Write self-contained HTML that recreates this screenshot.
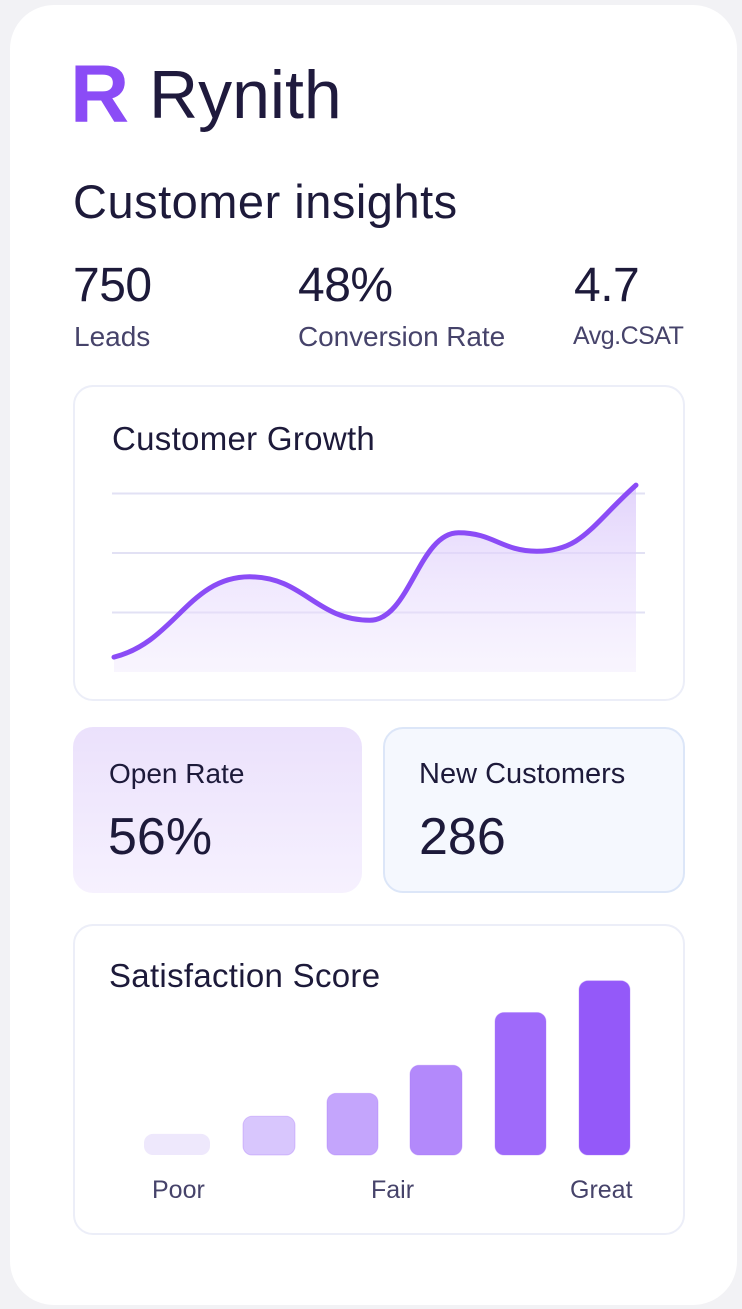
<!DOCTYPE html>
<html><head><meta charset="utf-8"><style>
*{margin:0;padding:0;box-sizing:border-box}
body{width:742px;height:1309px;background:#f2f2f5;font-family:"Liberation Sans",sans-serif;position:relative;overflow:hidden;color:#1d1a3a}
.abs{position:absolute;white-space:nowrap}
.card{position:absolute;border-radius:20px;background:#fff;border:2px solid #eceef8}
</style></head><body>
<div class="abs" style="left:10px;top:5px;width:727px;height:1300px;background:#fff;border-radius:44px"></div>
<div class="abs" style="left:70px;top:54px;font-size:82px;font-weight:bold;color:#8b4cf6;line-height:1">R</div>
<div class="abs" style="left:149px;top:61px;font-size:68px;line-height:1;color:#1f1a3d">Rynith</div>
<div class="abs" style="left:73px;top:178px;font-size:47px;line-height:1;letter-spacing:0.5px">Customer insights</div>
<div class="abs" style="left:73px;top:262px;font-size:48px;line-height:1;letter-spacing:-0.5px">750</div>
<div class="abs" style="left:74px;top:323px;font-size:28px;line-height:1;color:#46436a">Leads</div>
<div class="abs" style="left:298px;top:262px;font-size:48px;line-height:1;letter-spacing:-0.5px">48%</div>
<div class="abs" style="left:298px;top:323px;font-size:28px;line-height:1;color:#46436a;letter-spacing:-0.1px">Conversion Rate</div>
<div class="abs" style="left:574px;top:262px;font-size:48px;line-height:1;letter-spacing:-0.5px">4.7</div>
<div class="abs" style="left:573px;top:324px;font-size:25px;line-height:1;color:#46436a;letter-spacing:-0.5px">Avg.CSAT</div>

<div class="card" style="left:73px;top:385px;width:612px;height:316px"></div>
<div class="abs" style="left:112px;top:422px;font-size:33px;line-height:1;letter-spacing:0.3px">Customer Growth</div>
<svg class="abs" id="growth" style="left:0;top:0" width="742" height="720"></svg>

<div class="abs" style="left:73px;top:727px;width:289px;height:166px;border-radius:20px;background:linear-gradient(180deg,#ebe1fc,#f6f1fe)"></div>
<div class="abs" style="left:109px;top:760px;font-size:28px;line-height:1">Open Rate</div>
<div class="abs" style="left:108px;top:811px;font-size:52px;line-height:1">56%</div>
<div class="abs" style="left:383px;top:727px;width:302px;height:166px;border-radius:20px;background:#f5f8fe;border:2px solid #dce6f8"></div>
<div class="abs" style="left:419px;top:760px;font-size:29px;line-height:1">New Customers</div>
<div class="abs" style="left:419px;top:811px;font-size:52px;line-height:1">286</div>

<div class="card" style="left:73px;top:924px;width:612px;height:311px"></div>
<div class="abs" style="left:109px;top:959px;font-size:33px;line-height:1;letter-spacing:0.3px">Satisfaction Score</div>
<svg class="abs" id="bars" style="left:0;top:0" width="742" height="1309"></svg>
<div class="abs" style="left:152px;top:1178px;font-size:25px;line-height:1;color:#46436a">Poor</div>
<div class="abs" style="left:371px;top:1178px;font-size:25px;line-height:1;color:#46436a">Fair</div>
<div class="abs" style="left:570px;top:1178px;font-size:25px;line-height:1;color:#46436a">Great</div>

<script>
const growthX = [0, 2.6, 4.9, 6.6, 8.1, 10];
const growthY = [0.25, 1.6, 0.87, 2.34, 2.03, 3.14];
const gridTicks = [1, 2, 3];
const barCats = ["1", "2", "3", "4", "5", "6"];
const barVals = [12, 22, 35, 51, 81, 99];
const barColors = ["#eee8fc","#d8c6fd","#c4a5fc","#b389fb","#9f6afa","#9459f9"];

const NS = "http://www.w3.org/2000/svg";
function mk(t, a){const e=document.createElementNS(NS,t);for(const k in a)e.setAttribute(k,a[k]);return e;}
const gx = v => 114 + v * 52.2;
const gy = v => 672 - v * 59.5;
const g = document.getElementById('growth');
const defs = mk('defs',{});
defs.innerHTML = '<linearGradient id="ag" x1="0" y1="0" x2="0" y2="1"><stop offset="0" stop-color="#d9c6fb" stop-opacity="0.75"/><stop offset="1" stop-color="#efe6fd" stop-opacity="0.4"/></linearGradient>';
g.appendChild(defs);
gridTicks.forEach(t=>{
  const l = mk('line',{x1:112,x2:645,y1:gy(t),y2:gy(t),stroke:'#e2e1f4','stroke-width':2});
  
  
  g.appendChild(l);
});
const pts = growthX.map((x,i)=>[gx(x),gy(growthY[i])]);
let d = `M${pts[0][0]},${pts[0][1]}`;
for(let i=0;i<pts.length-1;i++){
  const p1=pts[i],p2=pts[i+1];
  const dx=(p2[0]-p1[0])*0.45;
  const isLast = i===pts.length-2;
  const c1=[p1[0]+dx, i===0 ? p1[1]-dx*0.25 : p1[1]];
  const c2=[p2[0]-dx, isLast ? p2[1]+dx*0.9 : p2[1]];
  d+=` C${c1[0]},${c1[1]} ${c2[0]},${c2[1]} ${p2[0]},${p2[1]}`;
}
const last = pts[pts.length-1];
const area = mk('path',{d:d+` L${last[0]},${gy(0)} L${pts[0][0]},${gy(0)} Z`,fill:'url(#ag)'});


g.appendChild(area);
const line = mk('path',{d:d,fill:'none',stroke:'#8b4cf6','stroke-width':5,'stroke-linecap':'round'});


g.appendChild(line);

const b = document.getElementById('bars');
const barLeft = [144,243,327,410,495,579];
const bw = [66,52,51,52,51,51];
const by = v => 1155 - v * 1.76;
barCats.forEach((c,i)=>{
  const v = barVals[i];
  const r = mk('rect',{x:barLeft[i],y:by(v),width:bw[i],height:1155-by(v),rx:9,fill:barColors[i],stroke:i>0?'#a774fa':'none','stroke-opacity':0.35});
  
  
  b.appendChild(r);
});
</script>
</body></html>
